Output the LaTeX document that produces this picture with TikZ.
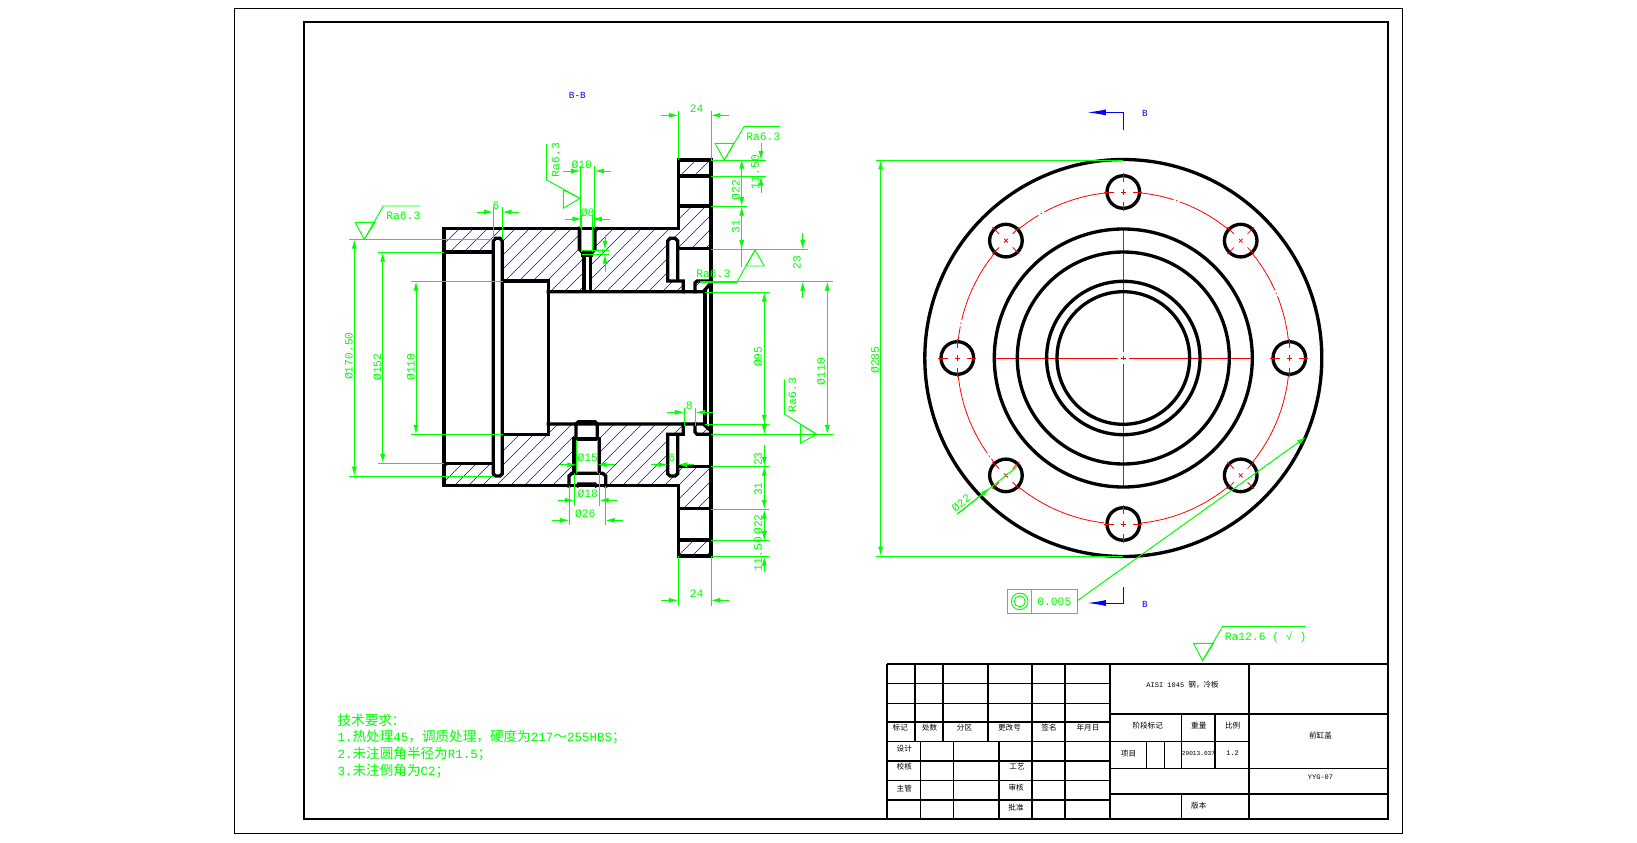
\documentclass[tikz,border=0pt]{standalone}
\usepackage{fontspec}
\usepackage{xcolor}
\usepackage{tikz}
\usetikzlibrary{arrows.meta}
\setmainfont{Liberation Sans}
\setmonofont{Liberation Mono}
\newfontfamily\cjk[Scale=1.085]{Noto Sans CJK SC}
\definecolor{dimgreen}{RGB}{0,255,0}
\definecolor{cutblue}{RGB}{0,0,255}
\definecolor{axisred}{RGB}{255,0,0}
\newcommand{\hz}[1]{{\cjk #1}}
\newcommand{\hatcharea}[1]{\begin{scope}\clip #1;
\foreach \h in {60,74,...,680} {\draw[hatchline] (\h,600) -- ++(460,-460);}
\end{scope}}

\begin{document}
\begin{tikzpicture}[x=0.75pt,y=-0.75pt,
outline/.style={draw=black,line width=2.5pt,line cap=rect},
hatchline/.style={draw=cutblue,line width=0.5pt},
frameline/.style={draw=black,line width=1.5pt},
titlethick/.style={draw=black,line width=1.1pt},
titlethin/.style={draw=black,line width=0.6pt},
axisline/.style={draw=axisred,line width=0.6pt},
dimline/.style={draw=dimgreen,line width=0.75pt},
dimarrow/.style={dimline,-{Latex[length=7pt,width=3.8pt]}},
dimboth/.style={dimline,{Latex[length=7pt,width=3.8pt]}-{Latex[length=7pt,width=3.8pt]}},
surface/.style={draw=dimgreen,line width=0.7pt},
cutline/.style={draw=cutblue,line width=0.75pt,-{Latex[length=14pt,width=4.5pt]}},
dimtext/.style={text=dimgreen,font=\ttfamily\fontsize{8.5}{10}\selectfont,inner sep=0pt,text depth=0pt},
cuttext/.style={text=cutblue,font=\ttfamily\fontsize{7}{8}\selectfont,inner sep=0pt},
reqtext/.style={text=dimgreen,anchor=west,font=\ttfamily\fontsize{9.4}{11}\selectfont,inner sep=0pt},
titletext/.style={text=black,font=\ttfamily\fontsize{5.25}{6}\selectfont,inner sep=0pt}
]
\useasboundingbox (0,0) rectangle (1637,842);
\fill[white] (0,0) rectangle (1637,842);

%frames
\draw[draw=black,line width=0.75pt] (234.3,8.3) rectangle (1402.7,833.3);
\draw[frameline] (304,22) rectangle (1388,819.3);

%hatching of the section
\hatcharea{(444,228.3) -- (678.3,228.3) -- (678.3,206) -- (711,206) -- (711,248.7) -- (677.7,248.7) -- (677.7,238.3) -- (667.7,238.3) -- (667.7,281) -- (683.3,281) -- (683.3,291.7) -- (548.3,291.7) -- (548.3,281) -- (502.3,281) -- (502.3,238.3) -- (493.3,238.3) -- (493.3,252) -- (444,252) -- cycle}
\hatcharea{(678.3,160) -- (711,160) -- (711,176) -- (678.3,176) -- cycle}
\hatcharea{(695,281) -- (711,281) -- (703.3,291.7) -- (695,291.7) -- cycle}
\hatcharea{(444,485.7) -- (678.3,485.7) -- (678.3,508.7) -- (711,508.7) -- (711,466.3) -- (677.7,466.3) -- (677.7,476) -- (667.7,476) -- (667.7,434.3) -- (683.3,434.3) -- (683.3,424) -- (548.3,424) -- (548.3,434.3) -- (502.3,434.3) -- (502.3,476) -- (493.3,476) -- (493.3,463.3) -- (444,463.3) -- cycle}
\hatcharea{(678.3,540) -- (711,540) -- (711,556) -- (678.3,556) -- cycle}
\hatcharea{(695,434.3) -- (711,434.3) -- (703.3,424) -- (695,424) -- cycle}
\fill[white] (579.3,228.3) rectangle (595,255);
\fill[white] (584,255) rectangle (590.7,291.7);
\fill[white] (569,486) -- (605.7,486) -- (605.7,473.3) -- (599.3,473.3) -- (599.3,439) -- (597.3,439) -- (597.3,423) -- (576,423) -- (576,439) -- (574,439) -- (574,473.3) -- (569,473.3) -- cycle;

%section outline
\draw[outline] (444,228.3) -- (678.3,228.3) -- (678.3,160) -- (711,160) -- (711,556) -- (678.3,556) -- (678.3,485.7) -- (444,485.7) -- cycle;
\draw[outline] (678.3,176) -- (711,176);
\draw[outline] (678.3,206) -- (711,206);
\draw[outline] (677.7,248.7) -- (711,248.7);
\draw[outline] (677.7,466.3) -- (711,466.3);
\draw[outline] (678.3,508.7) -- (711,508.7);
\draw[outline] (678.3,540) -- (711,540);

%left counterbore and groove
\draw[outline] (444,252) -- (493.3,252);
\draw[outline] (444,463.3) -- (493.3,463.3);
\draw[outline] (493.3,241) -- (495.5,238.3) -- (500,238.3) -- (502.3,241) -- (502.3,473.7) -- (500,476) -- (495.5,476) -- (493.3,473.7) -- cycle;

%bore
\draw[outline] (502.3,281) -- (548.3,281) -- (548.3,434.3) -- (502.3,434.3);
\draw[outline] (548.3,291.7) -- (703.3,291.7) -- (711,283);
\draw[outline] (548.3,424) -- (703.3,424) -- (711,431);
\draw[outline] (705,291.7) -- (705,424);

%right groove and recess
\draw[outline] (683.3,291.7) -- (683.3,281) -- (667.7,281) -- (667.7,241) -- (670,238.3) -- (675,238.3) -- (677.7,241) -- (677.7,281);
\draw[outline] (695,291.7) -- (695,283) -- (697,281) -- (711,281);
\draw[outline] (683.3,424) -- (683.3,434.3) -- (667.7,434.3) -- (667.7,473.7) -- (670,476) -- (675,476) -- (677.7,473.7) -- (677.7,434.3);
\draw[outline] (695,424) -- (695,432) -- (697,434.3) -- (711,434.3);

%radial holes
\draw[outline] (579.3,228.3) -- (579.3,249) -- (582,252) -- (592.7,252) -- (595,249) -- (595,228.3);
\draw[outline] (583,255) -- (591.5,255);
\draw[outline] (584,255) -- (584,291.7);
\draw[outline] (590.7,255) -- (590.7,291.7);
\draw[outline] (576,439) -- (576,424) -- (578.5,421.7) -- (595,421.7) -- (597.3,424) -- (597.3,439);
\draw[outline] (574,439) -- (599.3,439);
\draw[outline] (574,439) -- (574,473.3);
\draw[outline] (599.3,439) -- (599.3,473.3);
\draw[outline] (569,486) -- (569,476) -- (572,473.3) -- (602.7,473.3) -- (605.7,476) -- (605.7,486);
\draw[outline] (577.5,485.7) -- (578.5,484) -- (595,484) -- (596,485.7);

%front view
\coordinate (center) at (1123.3,358);
\draw[axisline,dash pattern=on 100pt off 2pt on 1pt off 2pt] (center) circle [radius=166];
\draw[axisline,dash pattern=on 92.5pt off 2.5pt on 3.5pt off 2.5pt] (994.3,358) -- (1252.3,358);
\draw[axisline,dash pattern=on 92.5pt off 2.5pt on 3.5pt off 2.5pt] (1123.3,229) -- (1123.3,487);
\draw[outline] (center) circle [radius=198.5];
\draw[outline] (center) circle [radius=129];
\draw[outline] (center) circle [radius=106];
\draw[outline] (center) circle [radius=76.7];
\draw[outline] (center) circle [radius=66.3];
\foreach \a in {0,45,...,315} {
  \draw[outline,fill=white] (center) ++(\a:166) circle [radius=16.3];
}
\foreach \a in {0,45,...,315} {
  \begin{scope}[shift={(center)},rotate=\a]
    \draw[axisline,dash pattern=on 7pt off 5.25pt on 4pt off 5.25pt on 7pt] (147,0) -- (185,0);
    \draw[axisline,dash pattern=on 7pt off 5.25pt on 4pt off 5.25pt on 7pt] (166,-19) -- (166,19);
  \end{scope}
}

%section marks
\draw[cutline] (1123.3,129.6) -- (1123.3,112.4) -- (1087.3,112.4);
\draw[cutline] (1123.3,587) -- (1123.3,603) -- (1087.3,603);
\node[cuttext] (markbb) at (577.3,95.7) {B-B};
\node[cuttext] (marktop) at (1145,113.4) {B};
\node[cuttext] (markbot) at (1145,604) {B};

%dimensions left side
\draw[dimline] (349.3,239.3) -- (493.3,239.3);
\draw[dimline] (349.3,476) -- (493.3,476);
\draw[dimboth] (354.3,239.3) -- (354.3,476);
\node[dimtext,rotate=90] (dima) at (348.7,356) {Ø170.50};
\draw[dimline] (378.3,252.3) -- (444,252.3);
\draw[dimline] (378.3,463.3) -- (444,463.3);
\draw[dimboth] (382.7,252.3) -- (382.7,463.3);
\node[dimtext,rotate=90] (dimb) at (377.3,367) {Ø152};
\draw[dimline] (411,281.3) -- (503,281.3);
\draw[dimline] (411,434.3) -- (503,434.3);
\draw[dimboth] (416,281.3) -- (416,434.3);
\node[dimtext,rotate=90] (dimc) at (410.7,367) {Ø110};

%groove width
\draw[dimline] (493.3,206.7) -- (493.3,239);
\draw[dimline] (502.3,206.7) -- (502.3,239);
\draw[dimarrow] (477.3,212) -- (493.3,212);
\draw[dimarrow] (519,212) -- (502.3,212);
\node[dimtext] (dimd) at (496,206) {6};

%upper radial hole
\draw[dimline] (580.3,166) -- (580.3,228);
\draw[dimline] (594.7,166) -- (594.7,228);
\draw[dimarrow] (563.3,171) -- (580.3,171);
\draw[dimarrow] (610.7,171) -- (594.7,171);
\node[dimtext] (dime) at (581.7,165) {Ø10};
\draw[dimline] (581.7,215) -- (581.7,252);
\draw[dimline] (592.7,215) -- (592.7,252);
\draw[dimarrow] (565,219) -- (581.7,219);
\draw[dimarrow] (610,219) -- (592.7,219);
\node[dimtext] (dimf) at (587.7,213) {Ø8};
\draw[dimline] (581.7,250) -- (609.3,250);
\draw[dimline] (581.7,254.3) -- (609.3,254.3);
\draw[dimarrow] (605,235) -- (605,250);
\draw[dimarrow] (605,271.7) -- (605,254.3);
\node[dimtext,rotate=90] (dimg) at (601,252) {4};

%lower radial hole
\draw[dimline] (576.7,440) -- (576.7,473);
\draw[dimline] (597.3,440) -- (597.3,473);
\draw[dimarrow] (560,464.7) -- (576.7,464.7);
\draw[dimarrow] (615,464.7) -- (597.3,464.7);
\node[dimtext] (dimh) at (587.7,458) {Ø15};
\draw[dimline] (574.3,473) -- (574.3,505.7);
\draw[dimline] (599.3,473) -- (599.3,505.7);
\draw[dimarrow] (558.3,500.3) -- (574.3,500.3);
\draw[dimarrow] (616.7,500.3) -- (599.3,500.3);
\node[dimtext] (dimi) at (587.7,494) {Ø18};
\draw[dimline] (569.3,485.7) -- (569.3,525);
\draw[dimline] (605.3,485.7) -- (605.3,525);
\draw[dimarrow] (552.3,520.3) -- (569.3,520.3);
\draw[dimarrow] (622.7,520.3) -- (605.3,520.3);
\node[dimtext] (dimj) at (585.3,514) {Ø26};

%flange width
\draw[dimline] (678.3,110.7) -- (678.3,160);
\draw[dimline] (711,110.7) -- (711,160);
\draw[dimarrow] (661,115.3) -- (678.3,115.3);
\draw[dimarrow] (729,115.3) -- (711,115.3);
\node[dimtext] (dimk) at (696.7,109) {24};
\draw[dimline] (678.3,556) -- (678.3,605.7);
\draw[dimline] (711,556) -- (711,605.7);
\draw[dimarrow] (661,600.3) -- (678.3,600.3);
\draw[dimarrow] (729,600.3) -- (711,600.3);
\node[dimtext] (diml) at (696.7,594) {24};

%flange dimensions upper
\draw[dimline] (711,160.3) -- (766,160.3);
\draw[dimline] (711,176.3) -- (766,176.3);
\draw[dimline] (711,206.3) -- (746.7,206.3);
\draw[dimline] (711,249.3) -- (807.7,249.3);
\draw[dimline] (700,281.3) -- (832.7,281.3);
\draw[dimline] (705,292.3) -- (769,292.3);
\draw[dimarrow] (761,143.3) -- (761,160.3);
\draw[dimarrow] (761,192.7) -- (761,176.3);
\node[dimtext,rotate=90] (dimm) at (755,172) {11.50};
\draw[dimboth] (741.7,159.3) -- (741.7,206.3);
\node[dimtext,rotate=90] (dimn) at (735.7,190) {Ø22};
\draw[dimarrow] (741.7,266.7) -- (741.7,206.3);
\draw[dimarrow] (741.7,220) -- (741.7,249.3);
\node[dimtext,rotate=90] (dimo) at (735.7,226.7) {31};
\draw[dimarrow] (802.7,233.3) -- (802.7,249.3);
\draw[dimarrow] (802.7,298.3) -- (802.7,281.3);
\node[dimtext,rotate=90] (dimp) at (796.7,262.3) {23};

%flange dimensions lower
\draw[dimline] (705,424.3) -- (769,424.3);
\draw[dimline] (711,434.3) -- (832.7,434.3);
\draw[dimline] (711,466.3) -- (769,466.3);
\draw[dimline] (711,509.3) -- (769,509.3);
\draw[dimline] (711,540.3) -- (769,540.3);
\draw[dimline] (711,556.3) -- (769,556.3);
\draw[dimboth] (764.3,292.3) -- (764.3,424.3);
\node[dimtext,rotate=90] (dimq) at (758,356.7) {Ø95};
\draw[dimarrow] (764.3,415) -- (764.3,434.3);
\draw[dimarrow] (764.3,445) -- (764.3,466.3);
\node[dimtext,rotate=90] (dimr) at (758,459) {23};
\draw[dimboth] (764.3,466.3) -- (764.3,509.3);
\node[dimtext,rotate=90] (dims) at (758,489) {31};
\draw[dimboth] (764.3,509.3) -- (764.3,540.3);
\node[dimtext,rotate=90] (dimt) at (758,524.5) {Ø22};
\draw[dimarrow] (764.3,525) -- (764.3,540.3);
\draw[dimarrow] (764.3,572.3) -- (764.3,556.3);
\node[dimtext,rotate=90] (dimu) at (758,554) {11.50};
\draw[dimboth] (827.3,281.3) -- (827.3,434.3);
\node[dimtext,rotate=90] (dimv) at (821,371.7) {Ø110};
\draw[dimarrow] (667.3,412.3) -- (684.3,412.3);
\draw[dimarrow] (712.7,412.3) -- (695.7,412.3);
\draw[dimline] (684.3,408.3) -- (684.3,426);
\draw[dimline] (695.7,408.3) -- (695.7,426);
\node[dimtext] (dimw) at (689.3,405.5) {8};
\draw[dimarrow] (651,464.7) -- (667.7,464.7);
\draw[dimarrow] (694,464.7) -- (677.7,464.7);
\node[dimtext] (dimx) at (671.7,458) {6};

%surface marks
\draw[surface] (355,222.3) -- (375,222.3) -- (364.3,239.3) -- (355,222.3);
\draw[surface] (364.3,239.3) -- (383.3,206) -- (420,206);
\node[dimtext] (raa) at (403.3,215.7) {Ra6.3};
\draw[surface] (563.3,190) -- (563.3,208.3) -- (580,198.3) -- cycle;
\draw[surface] (580,198.3) -- (546.7,180) -- (546.7,144);
\node[dimtext,rotate=90] (rab) at (555.7,160) {Ra6.3};
\draw[surface] (715,143.3) -- (734,143.3) -- (724.3,160) -- cycle;
\draw[surface] (724.3,160) -- (744,126.7) -- (780,126.7);
\node[dimtext] (rac) at (763.3,136.7) {Ra6.3};
\draw[surface] (755,250) -- (746,266) -- (764.3,266) -- cycle;
\draw[surface] (755,250) -- (736.7,282.3) -- (700,282.3);
\node[dimtext] (rad) at (713.3,274) {Ra6.3};
\draw[surface] (800.3,424.3) -- (800.3,443.3) -- (816.7,434.3) -- cycle;
\draw[surface] (816.7,434.3) -- (784.3,414) -- (784.3,379.3);
\node[dimtext,rotate=90] (rae) at (792.3,395) {Ra6.3};
\draw[surface] (1193.5,643.3) -- (1213.5,643.3) -- (1202.5,660.5) -- cycle;
\draw[surface] (1202.5,660.5) -- (1222.5,626.5) -- (1305.5,626.5);
\node[dimtext,anchor=west] (raf) at (1224.5,636.5) {Ra12.6 ( √ )};

%front view dimensions
\draw[dimline] (876,160) -- (1123.3,160);
\draw[dimline] (876,556) -- (1123.3,556);
\draw[dimboth] (880.7,160) -- (880.7,556);
\node[dimtext,rotate=90] (dimy) at (875,360) {Ø285};
\draw[dimline] (957.3,514) -- (1016.7,467);
\draw[dimarrow] (957.3,514) -- (990,488);
\node[dimtext,rotate=38] (dimz) at (961,503) {Ø22};

%runout frame
\draw[surface] (1007.3,589.3) rectangle (1077.3,613.4);
\draw[surface] (1031.3,589.3) -- (1031.3,613.4);
\draw[surface] (1019.7,601.4) circle [radius=8.3];
\draw[surface] (1019.7,601.4) circle [radius=5.5];
\node[dimtext] (tol) at (1054.3,601.4) {0.005};
\coordinate (tolend) at (1306,437);
\draw[dimarrow] (1077.3,600.7) -- (tolend);

%technical notes
\node[reqtext] (req0) at (337.3,720) {\hz{技术要求：}};
\node[reqtext] (req1) at (337.3,736.7) {1.\hz{热处理}45\hz{，调质处理，硬度为}217\hz{～}255HBS\hz{；}};
\node[reqtext] (req2) at (337.3,754) {2.\hz{未注圆角半径为}R1.5\hz{；}};
\node[reqtext] (req3) at (337.3,771) {3.\hz{未注倒角为}C2\hz{；}};

%title block lines
\draw[titlethick] (886.8,664) -- (1388,664);
\draw[titlethick] (886.8,664) -- (886.8,819.3);
\draw[titlethin] (886.8,683.3) -- (1110,683.3);
\draw[titlethin] (886.8,703.3) -- (1110,703.3);
\draw[titlethick] (886.8,722) -- (1110,722);
\draw[titlethick] (886.8,741.7) -- (1110,741.7);
\draw[titlethick] (886.8,761) -- (1110,761);
\draw[titlethick] (886.8,780.3) -- (1110,780.3);
\draw[titlethick] (886.8,800) -- (1110,800);
\draw[titlethick] (914.8,664) -- (914.8,741.7);
\draw[titlethick] (942.9,664) -- (942.9,741.7);
\draw[titlethick] (988.2,664) -- (988.2,741.7);
\draw[titlethick] (1032,664) -- (1032,819.3);
\draw[titlethick] (1065,664) -- (1065,819.3);
\draw[titlethick] (1110,664) -- (1110,819.3);
\draw[titlethick] (920.6,741.7) -- (920.6,819.3);
\draw[titlethick] (953.7,741.7) -- (953.7,819.3);
\draw[titlethick] (999,741.7) -- (999,819.3);
\draw[titlethick] (1249,664) -- (1249,819.3);
\draw[titlethick] (1110,714) -- (1388,714);
\draw[titlethick] (1110,741.7) -- (1249,741.7);
\draw[titlethick] (1110,768.5) -- (1388,768.5);
\draw[titlethick] (1110,794) -- (1388,794);
\draw[titlethick] (1181.7,714) -- (1181.7,768.5);
\draw[titlethick] (1215.2,714) -- (1215.2,768.5);
\draw[titlethick] (1181.7,794) -- (1181.7,819.3);
\draw[titlethin] (1146.5,741.7) -- (1146.5,768.5);
\draw[titlethin] (1164.5,741.7) -- (1164.5,768.5);

%title block texts
\node[titletext] (t1) at (900.3,728) {\hz{标记}};
\node[titletext] (t2) at (929.7,728) {\hz{处数}};
\node[titletext] (t3) at (964.5,728) {\hz{分区}};
\node[titletext] (t4) at (1009.5,728) {\hz{更改号}};
\node[titletext] (t5) at (1049,728) {\hz{签名}};
\node[titletext] (t6) at (1088,728) {\hz{年月日}};
\node[titletext] (t7) at (904.3,748.3) {\hz{设计}};
\node[titletext] (t8) at (904.3,766.7) {\hz{校核}};
\node[titletext] (t9) at (904.3,788.3) {\hz{主管}};
\node[titletext] (t10) at (1017,766.7) {\hz{工艺}};
\node[titletext] (t11) at (1016.2,788) {\hz{审核}};
\node[titletext] (t12) at (1016,807.7) {\hz{批准}};
\node[titletext] (t13) at (1182.6,684.3) {AISI 1045 \hz{钢，冷板}};
\node[titletext] (t14) at (1147.7,725.7) {\hz{阶段标记}};
\node[titletext] (t15) at (1198.8,725.7) {\hz{重量}};
\node[titletext] (t16) at (1232.6,725.7) {\hz{比例}};
\node[titletext] (t17) at (1128.5,753.3) {\hz{项目}};
\node[titletext,font=\ttfamily\fontsize{4.6}{6}\selectfont] (t18) at (1198.5,753.3) {29013.037};
\node[titletext] (t19) at (1232.6,753.3) {1.2};
\node[titletext] (t20) at (1320.5,736) {\hz{前缸盖}};
\node[titletext] (t21) at (1320.5,777.3) {YYG-07};
\node[titletext] (t22) at (1198.8,805.7) {\hz{版本}};
\end{tikzpicture}
\end{document}
